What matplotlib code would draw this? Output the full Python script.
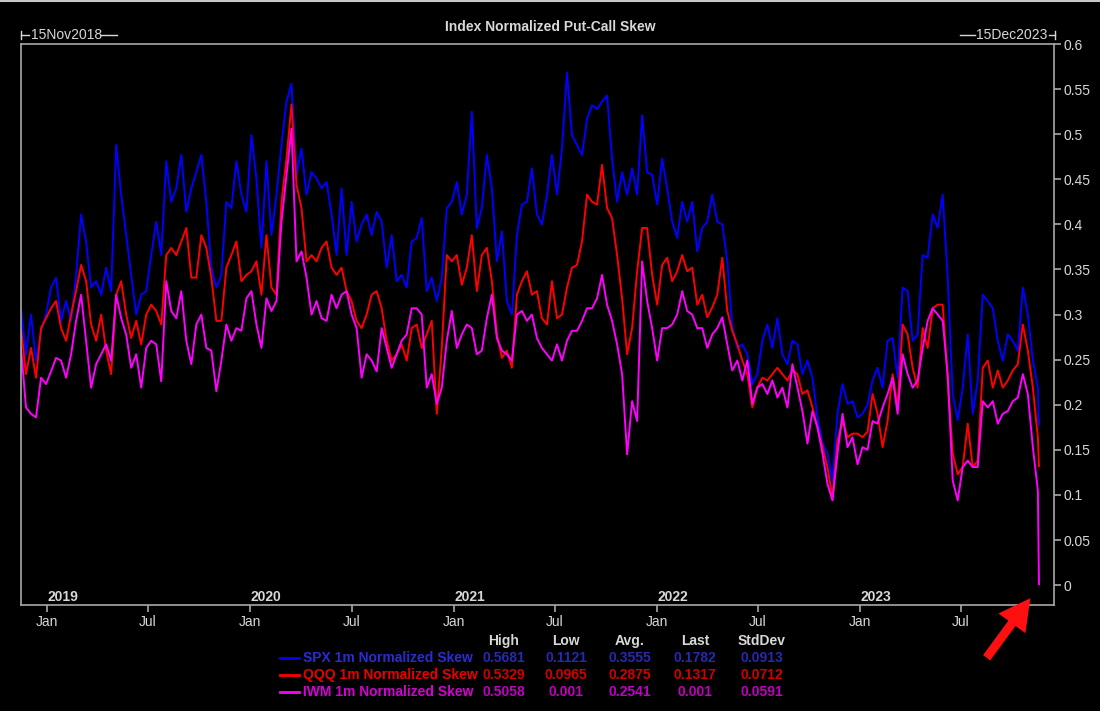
import numpy as np
import pandas as pd
import matplotlib
matplotlib.use('Agg')
import matplotlib.pyplot as plt
import matplotlib.dates as mdates
from matplotlib.lines import Line2D
from matplotlib.patches import FancyArrowPatch
from matplotlib.transforms import blended_transform_factory

plt.rcParams['font.family'] = ['Liberation Sans', 'DejaVu Sans']

# values, one every ~9 days from 15Nov2018
spx = [0.307, 0.256, 0.300, 0.249, 0.282, 0.300, 0.330, 0.341, 0.293, 0.315,
       0.293, 0.344, 0.411, 0.381, 0.330, 0.337, 0.322, 0.352, 0.326, 0.488,
       0.433, 0.388, 0.344, 0.300, 0.322, 0.326, 0.366, 0.403, 0.366, 0.470,
       0.425, 0.440, 0.477, 0.414, 0.440, 0.458, 0.477, 0.425, 0.352, 0.330,
       0.344, 0.425, 0.418, 0.470,
       0.433, 0.414, 0.499, 0.451, 0.374, 0.470, 0.388, 0.433, 0.488, 0.536,
       0.556, 0.455, 0.484, 0.433, 0.458, 0.451, 0.440, 0.447, 0.411, 0.366,
       0.440, 0.366, 0.425, 0.381, 0.400, 0.411, 0.388, 0.414, 0.403, 0.352,
       0.388, 0.337, 0.344, 0.330, 0.381, 0.385, 0.407, 0.326, 0.341, 0.315,
       0.341, 0.418,
       0.425, 0.447, 0.411, 0.433, 0.525, 0.396, 0.418, 0.477, 0.440, 0.359,
       0.392, 0.315, 0.300, 0.388, 0.422, 0.425, 0.462, 0.411, 0.400, 0.433,
       0.477, 0.433, 0.484, 0.568, 0.499, 0.488, 0.477, 0.517, 0.532, 0.528,
       0.536, 0.543, 0.473, 0.425, 0.458, 0.433, 0.462, 0.433, 0.521, 0.458,
       0.455, 0.422,
       0.473, 0.440, 0.403, 0.385, 0.425, 0.403, 0.425, 0.370, 0.396, 0.403,
       0.433, 0.403, 0.400, 0.359, 0.286, 0.263, 0.267, 0.256, 0.223, 0.234,
       0.271, 0.289, 0.263, 0.296, 0.256, 0.245, 0.271, 0.267, 0.234, 0.249,
       0.230, 0.186, 0.157, 0.146, 0.115, 0.190, 0.223, 0.201, 0.204, 0.186,
       0.190, 0.200,
       0.227, 0.241, 0.219, 0.271, 0.274, 0.230, 0.330, 0.326, 0.271, 0.278,
       0.366, 0.363, 0.411, 0.396, 0.433, 0.341, 0.212, 0.183, 0.219, 0.278,
       0.190, 0.227, 0.322, 0.315, 0.307, 0.271, 0.249, 0.278, 0.271, 0.260,
       0.330, 0.300, 0.249, 0.219, 0.178]

qqq = [0.285, 0.234, 0.263, 0.230, 0.285, 0.296, 0.307, 0.315, 0.285, 0.271,
       0.300, 0.326, 0.355, 0.337, 0.289, 0.271, 0.300, 0.260, 0.234, 0.322,
       0.337, 0.300, 0.274, 0.293, 0.267, 0.300, 0.311, 0.304, 0.289, 0.366,
       0.374, 0.366, 0.381, 0.396, 0.341, 0.341, 0.388, 0.374, 0.341, 0.293,
       0.293, 0.352, 0.366, 0.381,
       0.337, 0.344, 0.348, 0.359, 0.322, 0.388, 0.330, 0.322, 0.425, 0.473,
       0.533, 0.444, 0.418, 0.359, 0.366, 0.359, 0.374, 0.381, 0.352, 0.344,
       0.352, 0.326, 0.315, 0.293, 0.285, 0.300, 0.322, 0.326, 0.307, 0.271,
       0.249, 0.256, 0.267, 0.249, 0.285, 0.289, 0.263, 0.278, 0.293, 0.190,
       0.263, 0.366,
       0.359, 0.366, 0.333, 0.352, 0.388, 0.326, 0.366, 0.374, 0.337, 0.278,
       0.252, 0.260, 0.241, 0.322, 0.337, 0.348, 0.322, 0.326, 0.296, 0.289,
       0.337, 0.296, 0.300, 0.330, 0.352, 0.355, 0.381, 0.433, 0.425, 0.422,
       0.466, 0.418, 0.407, 0.366, 0.318, 0.256, 0.285, 0.348, 0.396, 0.396,
       0.344, 0.311,
       0.355, 0.363, 0.337, 0.348, 0.366, 0.348, 0.352, 0.311, 0.322, 0.297,
       0.308, 0.322, 0.363, 0.304, 0.282, 0.267, 0.249, 0.234, 0.197, 0.219,
       0.230, 0.227, 0.234, 0.241, 0.234, 0.227, 0.238, 0.234, 0.212, 0.216,
       0.197, 0.175, 0.153, 0.131, 0.097, 0.160, 0.182, 0.164, 0.168, 0.168,
       0.164, 0.170,
       0.212, 0.190, 0.153, 0.182, 0.234, 0.197, 0.289, 0.278, 0.241, 0.219,
       0.285, 0.263, 0.307, 0.311, 0.311, 0.227, 0.146, 0.123, 0.131, 0.179,
       0.131, 0.138, 0.241, 0.249, 0.219, 0.238, 0.219, 0.227, 0.238, 0.245,
       0.289, 0.260, 0.219, 0.164, 0.132]

iwm = [0.263, 0.197, 0.190, 0.186, 0.230, 0.223, 0.237, 0.252, 0.249, 0.230,
       0.256, 0.293, 0.322, 0.271, 0.219, 0.245, 0.256, 0.267, 0.249, 0.322,
       0.296, 0.278, 0.241, 0.256, 0.219, 0.263, 0.271, 0.267, 0.226, 0.337,
       0.304, 0.296, 0.326, 0.271, 0.245, 0.289, 0.300, 0.263, 0.260, 0.215,
       0.249, 0.289, 0.271, 0.285,
       0.282, 0.318, 0.326, 0.289, 0.263, 0.318, 0.304, 0.315, 0.403, 0.455,
       0.506, 0.359, 0.370, 0.341, 0.300, 0.315, 0.296, 0.293, 0.322, 0.307,
       0.322, 0.326, 0.300, 0.285, 0.230, 0.256, 0.249, 0.237, 0.285, 0.263,
       0.241, 0.256, 0.271, 0.278, 0.307, 0.307, 0.300, 0.219, 0.234, 0.201,
       0.219, 0.271,
       0.304, 0.263, 0.278, 0.289, 0.285, 0.256, 0.260, 0.296, 0.322, 0.274,
       0.260, 0.256, 0.249, 0.300, 0.304, 0.293, 0.300, 0.274, 0.263, 0.256,
       0.249, 0.267, 0.249, 0.271, 0.282, 0.282, 0.293, 0.307, 0.307, 0.318,
       0.344, 0.311, 0.293, 0.267, 0.234, 0.145, 0.204, 0.182, 0.359, 0.315,
       0.285, 0.249,
       0.285, 0.285, 0.289, 0.300, 0.326, 0.304, 0.300, 0.285, 0.285, 0.263,
       0.278, 0.285, 0.297, 0.267, 0.238, 0.249, 0.227, 0.249, 0.201, 0.219,
       0.223, 0.212, 0.227, 0.208, 0.219, 0.197, 0.245, 0.219, 0.193, 0.157,
       0.193, 0.175, 0.146, 0.112, 0.094, 0.146, 0.190, 0.153, 0.164, 0.134,
       0.153, 0.150,
       0.182, 0.179, 0.197, 0.212, 0.230, 0.190, 0.256, 0.234, 0.219, 0.227,
       0.263, 0.293, 0.307, 0.300, 0.293, 0.234, 0.116, 0.094, 0.131, 0.138,
       0.131, 0.131, 0.204, 0.197, 0.204, 0.179, 0.190, 0.193, 0.204, 0.208,
       0.234, 0.212, 0.153, 0.105, 0.001]

names = ['SPX 1m Normalized Skew', 'QQQ 1m Normalized Skew', 'IWM 1m Normalized Skew']
stat_cols = ['High', 'Low', 'Avg.', 'Last', 'StdDev']
stats = [['0.5681', '0.1121', '0.3555', '0.1782', '0.0913'],
         ['0.5329', '0.0965', '0.2875', '0.1317', '0.0712'],
         ['0.5058', '0.001', '0.2541', '0.001', '0.0591']]

line_colors = ['#0000ff', '#ff0000', '#ff00ff']
name_colors = ['#2b2bd6', '#e80000', '#d400d4']
val_colors = ['#2828b0', '#d00000', '#c000c0']
fg = '#d8d8d8'
grey = '#a8a8a8'

dates = list(pd.date_range('2018-11-15', periods=len(spx) - 1, freq='9D')) + [pd.Timestamp('2023-11-18')]

W, H = 1100, 711
fig = plt.figure(figsize=(W / 100, H / 100), dpi=100, facecolor='black')


def fx(px):
    return px / W


def fy(py):
    return 1 - py / H


ax = fig.add_axes([fx(21), fy(605), fx(1054) - fx(21), fy(44) - fy(605)])
ax.set_facecolor('black')

for vals, c in zip([spx, qqq, iwm], line_colors):
    ax.plot(dates, vals, color=c, lw=1.4)

ax.set_xlim(pd.Timestamp('2018-11-15'), pd.Timestamp('2023-12-15'))
ax.set_ylim(-0.022, 0.6)

for s in ax.spines.values():
    s.set_color(grey)
    s.set_linewidth(1.2)

ax.yaxis.tick_right()
ax.set_yticks(np.arange(0, 0.601, 0.05))
ax.yaxis.set_major_formatter(lambda v, p: ('%.2f' % v).rstrip('0').rstrip('.'))
ax.xaxis.set_major_locator(mdates.MonthLocator(bymonth=[1, 7]))
ax.xaxis.set_major_formatter(mdates.DateFormatter('%b'))
ax.tick_params(axis='both', colors=grey, labelcolor=fg, labelsize=10,
               length=5, width=1.2, direction='out', pad=2)

# year labels inside the plot, just above the date axis
tr = blended_transform_factory(ax.transData, ax.transAxes)
for yr in range(2019, 2024):
    ax.text(pd.Timestamp(f'{yr}-01-01'), 0.015, str(yr), transform=tr,
            ha='left', va='center', color=fg, fontsize=10, fontweight='bold')

fig.text(0.5, fy(27), 'Index Normalized Put-Call Skew', ha='center', va='center',
         color=fg, fontsize=10, fontweight='bold')

# start / end date markers above the frame
fig.text(fx(31), fy(35), '15Nov2018', ha='left', va='center', color=fg, fontsize=10)
fig.text(fx(1047), fy(35), '15Dec2023', ha='right', va='center', color=fg, fontsize=10)
for xs, ys in [([21, 21], [31, 39]), ([21, 29], [35, 35]), ([101, 117], [35, 35]),
               ([960, 975], [35, 35]), ([1049, 1055], [35, 35]), ([1055, 1055], [31, 39])]:
    fig.add_artist(Line2D([fx(v) for v in xs], [fy(v) for v in ys], color=fg, lw=1))

# top border line of the screenshot
fig.add_artist(Line2D([0, 1], [fy(0.5), fy(0.5)], color='#c8c8c8', lw=1.5))

# legend table
col_x = [504, 566, 630, 695, 762]
for cx, lab in zip(col_x, stat_cols):
    fig.text(fx(cx), fy(641), lab, ha='center', va='center', color=fg,
             fontsize=10, fontweight='bold')
for i, (nm, row) in enumerate(zip(names, stats)):
    ry = 658 + 17 * i
    fig.add_artist(Line2D([fx(280), fx(299)], [fy(ry), fy(ry)], color=line_colors[i], lw=2))
    fig.text(fx(303), fy(ry), nm, ha='left', va='center', color=name_colors[i],
             fontsize=10, fontweight='bold')
    for cx, v in zip(col_x, row):
        fig.text(fx(cx), fy(ry), v, ha='center', va='center', color=val_colors[i],
                 fontsize=10, fontweight='bold')

# red arrow pointing at the IWM drop
arrow = FancyArrowPatch((fx(985), fy(660)), (fx(1032), fy(596)), transform=fig.transFigure,
                        arrowstyle='simple,head_length=1.4,head_width=1.5,tail_width=0.4',
                        mutation_scale=16, color='#ff1010', lw=0)
fig.add_artist(arrow)

fig.savefig('out.png', dpi=100, facecolor='black')
